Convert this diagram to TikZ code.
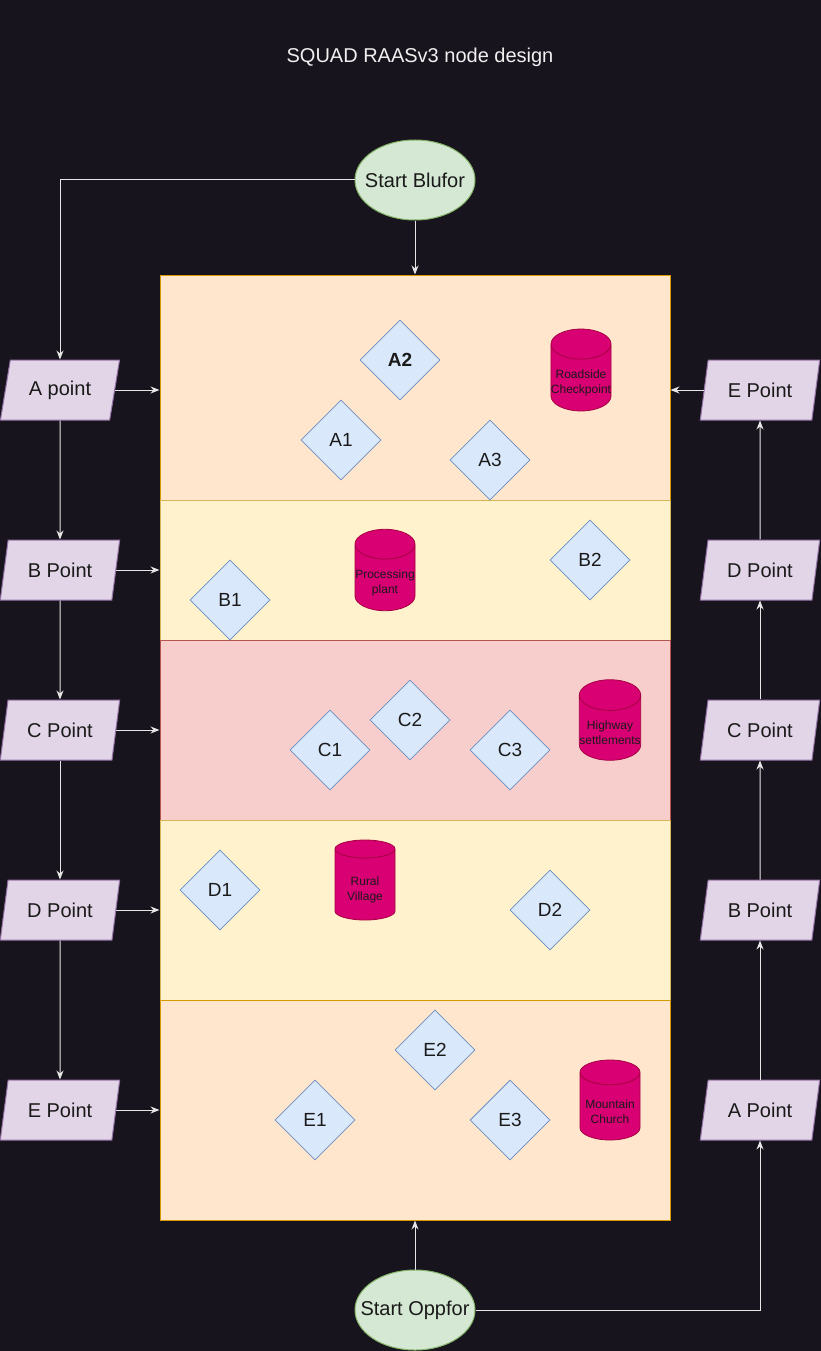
\documentclass[tikz,border=0pt]{standalone}
\usepackage{fontspec}
\setmainfont{Liberation Sans}
\usetikzlibrary{arrows.meta}
\usetikzlibrary{shapes.geometric}
\definecolor{bgDark}{HTML}{18141D}
\definecolor{inkDark}{HTML}{1A1A1A}
\definecolor{linkWhite}{HTML}{E6E6E6}
\definecolor{titleWhite}{HTML}{F0F0F0}
\definecolor{startFill}{HTML}{D5E8D4}
\definecolor{startLine}{HTML}{82B366}
\definecolor{pointFill}{HTML}{E1D5E7}
\definecolor{pointLine}{HTML}{9673A6}
\definecolor{objFill}{HTML}{DAE8FC}
\definecolor{objLine}{HTML}{6C8EBF}
\definecolor{siteFill}{HTML}{D80073}
\definecolor{siteLine}{HTML}{A50040}
\definecolor{orangeFill}{HTML}{FFE6CC}
\definecolor{orangeLine}{HTML}{D79B00}
\definecolor{yellowFill}{HTML}{FFF2CC}
\definecolor{yellowLine}{HTML}{D6B656}
\definecolor{redFill}{HTML}{F8CECC}
\definecolor{redLine}{HTML}{B85450}
\newcommand{\siteLift}{\rule{0pt}{19pt}}

\begin{document}
\begin{tikzpicture}[x=1pt, y=-1pt]
\tikzstyle{bandStyle}=[draw, minimum width=510, inner sep=0pt, line width=1pt]
\tikzstyle{pointStyle}=[trapezium, trapezium left angle=71.57, trapezium right angle=108.43, trapezium stretches=true, minimum width=120, minimum height=60, inner sep=0pt, draw=pointLine, fill=pointFill, text=inkDark, line width=1pt, font=\fontsize{20}{24}\selectfont]
\tikzstyle{startStyle}=[ellipse, minimum width=120, minimum height=80, inner sep=0pt, draw=startLine, fill=startFill, line width=1pt]
\tikzstyle{startText}=[text=inkDark, font=\fontsize{20}{24}\selectfont]
\tikzstyle{objStyle}=[diamond, aspect=1, minimum width=80, minimum height=80, inner sep=0pt, draw=objLine, fill=objFill, text=inkDark, line width=0.8pt, font=\fontsize{19}{23}\selectfont]
\tikzstyle{siteStyle}=[cylinder, shape border rotate=90, aspect=0.5, minimum width=60, minimum height=80, inner sep=0pt, anchor=shape center, draw=siteLine, fill=siteFill, text=inkDark, align=center, line width=0.8pt, font=\fontsize{12}{15}\selectfont]
\tikzstyle{linkStyle}=[draw=linkWhite, line width=1pt, -{Stealth[length=9pt, width=7pt]}]
\fill[bgDark] (0,0) rectangle (821,1351);
\useasboundingbox (0,0) rectangle (821,1351);
\node[font=\fontsize{20}{24}\selectfont, text=titleWhite] (title) at (420,57) {SQUAD RAASv3 node design};
\node[bandStyle, fill=orangeFill, draw=orangeLine, minimum height=225] (bandA) at (415,387.5) {};
\node[bandStyle, fill=yellowFill, draw=yellowLine, minimum height=140] (bandB) at (415,570) {};
\node[bandStyle, fill=redFill, draw=redLine, minimum height=180] (bandC) at (415,730) {};
\node[bandStyle, fill=yellowFill, draw=yellowLine, minimum height=180] (bandD) at (415,910) {};
\node[bandStyle, fill=orangeFill, draw=orangeLine, minimum height=220] (bandE) at (415,1110) {};
\node[startStyle, label={[startText]center:Start Blufor}] (sb) at (415,180) {};
\node[startStyle, label={[startText]center:Start Oppfor}] (so) at (415,1310) {};
\node[pointStyle] (lA) at (60,390) {A point};
\node[pointStyle] (lB) at (60,570) {B Point};
\node[pointStyle] (lC) at (60,730) {C Point};
\node[pointStyle] (lD) at (60,910) {D Point};
\node[pointStyle] (lE) at (60,1110) {E Point};
\node[pointStyle] (rE) at (760,390) {E Point};
\node[pointStyle] (rD) at (760,570) {D Point};
\node[pointStyle] (rC) at (760,730) {C Point};
\node[pointStyle] (rB) at (760,910) {B Point};
\node[pointStyle] (rA) at (760,1110) {A Point};
\node[objStyle] (a2) at (400,360) {\bfseries A2};
\node[objStyle] (a1) at (341,440) {A1};
\node[objStyle] (a3) at (490,460) {A3};
\node[objStyle] (b1) at (230,600) {B1};
\node[objStyle] (b2) at (590,560) {B2};
\node[objStyle] (c1) at (330,750) {C1};
\node[objStyle] (c2) at (410,720) {C2};
\node[objStyle] (c3) at (510,750) {C3};
\node[objStyle] (d1) at (220,890) {D1};
\node[objStyle] (d2) at (550,910) {D2};
\node[objStyle] (e1) at (315,1120) {E1};
\node[objStyle] (e2) at (435,1050) {E2};
\node[objStyle] (e3) at (510,1120) {E3};
\node[siteStyle] (roadside) at (581,370) {\siteLift Roadside\\Checkpoint};
\node[siteStyle] (plant) at (385,570) {\siteLift Processing\\plant};
\node[siteStyle] (highway) at (610,720) {\siteLift Highway\\settlements};
\node[siteStyle] (village) at (365,880) {\siteLift Rural\\Village};
\node[siteStyle] (church) at (610,1100) {\siteLift Mountain\\Church};
\draw[linkStyle] (sb.west) -| (lA.north);
\draw[linkStyle] (sb.south) -- (sb.south |- bandA.north);
\draw[linkStyle] (so.north) -- (so.north |- bandE.south);
\draw[linkStyle] (so.east) -| (rA.south);
\draw[linkStyle] (lA.south) -- (lB.north);
\draw[linkStyle] (lB.south) -- (lC.north);
\draw[linkStyle] (lC.south) -- (lD.north);
\draw[linkStyle] (lD.south) -- (lE.north);
\draw[linkStyle] (rA.north) -- (rB.south);
\draw[linkStyle] (rB.north) -- (rC.south);
\draw[linkStyle] (rC.north) -- (rD.south);
\draw[linkStyle] (rD.north) -- (rE.south);
\draw[linkStyle] (lA.east) -- (lA.east -| bandA.west);
\draw[linkStyle] (lB.east) -- (lB.east -| bandB.west);
\draw[linkStyle] (lC.east) -- (lC.east -| bandC.west);
\draw[linkStyle] (lD.east) -- (lD.east -| bandD.west);
\draw[linkStyle] (lE.east) -- (lE.east -| bandE.west);
\draw[linkStyle] (rE.west) -- (rE.west -| bandA.east);
\end{tikzpicture}
\end{document}
